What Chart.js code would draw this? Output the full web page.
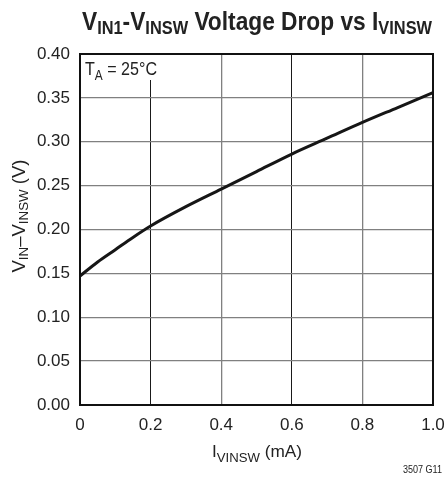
<!DOCTYPE html>
<html><head><meta charset="utf-8">
<script src="https://cdn.jsdelivr.net/npm/chart.js@4/dist/chart.umd.min.js"></script>
<style>html,body{margin:0;padding:0;background:#fff}#wrap{width:447px;height:479px;position:relative}</style>
</head><body><div id="wrap"><canvas id="c" width="447" height="479"></canvas></div>
<script>
// ---- data ----
const currentMA = [0, 0.05, 0.1, 0.15, 0.2, 0.3, 0.4, 0.5, 0.6, 0.7, 0.8, 0.9, 1.0];
const dropV     = [0.147, 0.163, 0.177, 0.191, 0.204, 0.226, 0.246, 0.266, 0.286, 0.304, 0.322, 0.339, 0.356];
const xTickValues = [0, 0.2, 0.4, 0.6, 0.8, 1.0];
const yTickValues = [0, 0.05, 0.10, 0.15, 0.20, 0.25, 0.30, 0.35, 0.40];
const titleParts  = [["V",0],["IN1",1],["-V",0],["INSW",1],[" Voltage Drop vs I",0],["VINSW",1]];
const yTitleParts = [["V",0],["IN",1],["\u2013V",0],["INSW",1],[" (V)",0]];
const xTitleParts = [["I",0],["VINSW",1],[" (mA)",0]];
const noteParts   = [["T",0],["A",1],[" = 25\u00B0C",0]];
const figureId = "3507 G11";

const FAM = '"Liberation Sans", Arial, sans-serif';
const TXT = '#222';

function drawRich(ctx, parts, o) {
  ctx.save();
  const fMain = `${o.weight||'normal'} ${o.size}px ${FAM}`;
  const fSub = `${o.weight||'normal'} ${o.subSize}px ${FAM}`;
  let W = 0;
  const ws = parts.map(p => { ctx.font = p[1] ? fSub : fMain; const w = ctx.measureText(p[0]).width; W += w; return w; });
  const sx = o.width ? o.width / W : 1;
  ctx.translate(o.x, o.y);
  if (o.rotate) ctx.rotate(o.rotate);
  ctx.scale(sx, 1);
  let cur = o.align === 'center' ? -W/2 : (o.align === 'right' ? -W : 0);
  ctx.fillStyle = o.color || TXT;
  ctx.textBaseline = 'alphabetic';
  ctx.textAlign = 'left';
  parts.forEach((p, i) => {
    ctx.font = p[1] ? fSub : fMain;
    ctx.fillText(p[0], cur, p[1] ? o.drop : 0);
    cur += ws[i];
  });
  ctx.restore();
}

const decor = {
  id: 'decor',
  afterDraw(chart) {
    const ctx = chart.ctx, a = chart.chartArea;
    ctx.save();
    ctx.fillStyle = '#fff';
    ctx.fillRect(a.left + 1, a.top + 1, 79, 25);
    ctx.restore();
    drawRich(ctx, noteParts, {x: a.left + 5, y: a.top + 21, size: 19, subSize: 14, drop: 5, width: 72, align: 'left'});
    ctx.save();
    ctx.strokeStyle = '#111';
    ctx.lineWidth = 2;
    ctx.strokeRect(a.left, a.top, a.right - a.left, a.bottom - a.top);
    ctx.restore();
    drawRich(ctx, titleParts, {x: 257, y: 30, size: 25, subSize: 18, drop: 3.5, width: 350, align: 'center', weight: 'bold'});
    drawRich(ctx, yTitleParts, {x: 25, y: 216, size: 18, subSize: 13, drop: 3, width: 113, align: 'center', rotate: -Math.PI/2});
    drawRich(ctx, xTitleParts, {x: 257, y: 457, size: 17, subSize: 13, drop: 5, width: 90, align: 'center'});
    drawRich(ctx, [[figureId,0]], {x: 442, y: 473, size: 10, subSize: 10, drop: 0, width: 39, align: 'right'});
  }
};

const near = (v, t) => Math.abs(v - t) < 1e-6;

new Chart(document.getElementById('c'), {
  type: 'line',
  data: {
    datasets: [{
      data: currentMA.map((x, i) => ({x, y: dropV[i]})),
      borderColor: '#161616',
      borderWidth: 3,
      pointRadius: 0,
      fill: false,
      cubicInterpolationMode: 'monotone'
    }]
  },
  options: {
    responsive: false,
    animation: false,
    events: [],
    layout: {padding: {top: 54, right: 14, left: 0, bottom: 0}},
    plugins: {legend: {display: false}, tooltip: {enabled: false}, title: {display: false}},
    scales: {
      x: {
        type: 'linear', min: 0, max: 1,
        afterFit(s) { s.height = 74; s.paddingLeft = 0; s.paddingRight = 0; },
        afterBuildTicks(s) { s.ticks = xTickValues.map(v => ({value: v})); },
        ticks: {
          padding: 10, color: TXT, font: {family: FAM, size: 17},
          maxRotation: 0,
          callback: v => near(v, 0) ? '0' : Number(v).toFixed(1)
        },
        grid: {
          drawTicks: false,
          color: c => (c.tick && (near(c.tick.value, 0.2) || near(c.tick.value, 0.6))) ? '#1a1a1a' : '#808080',
          lineWidth: c => (c.tick && (near(c.tick.value, 0.2) || near(c.tick.value, 0.6))) ? 1 : 1.3
        },
        border: {display: true, color: '#111', width: 2}
      },
      y: {
        type: 'linear', min: 0, max: 0.4,
        afterFit(s) { s.width = 80; s.paddingTop = 0; s.paddingBottom = 0; },
        afterBuildTicks(s) { s.ticks = yTickValues.map(v => ({value: v})); },
        ticks: {
          padding: 10, color: TXT, font: {family: FAM, size: 17},
          callback: v => Number(v).toFixed(2)
        },
        grid: {drawTicks: false, color: '#808080', lineWidth: 1.3},
        border: {display: true, color: '#111', width: 2}
      }
    }
  },
  plugins: [decor]
});
</script></body></html>
